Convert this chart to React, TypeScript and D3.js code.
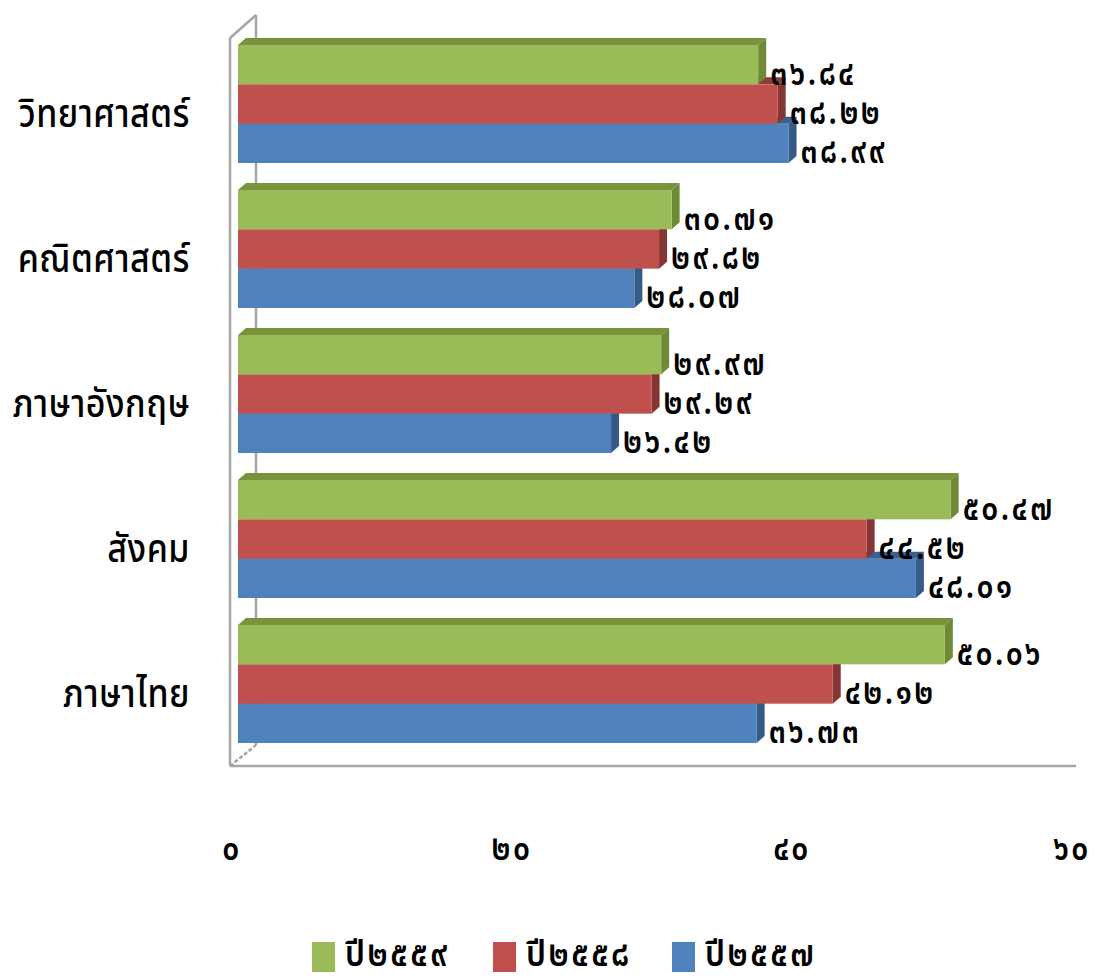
import React from "react";
import * as d3 from "d3";

const categories = ["วิทยาศาสตร์", "คณิตศาสตร์", "ภาษาอังกฤษ", "สังคม", "ภาษาไทย"];
const seriesNames = ["ปี๒๕๕๙", "ปี๒๕๕๘", "ปี๒๕๕๗"];
const v2559 = [36.84, 30.71, 29.97, 50.47, 50.06];
const v2558 = [38.22, 29.82, 29.29, 44.52, 42.12];
const v2557 = [38.99, 28.07, 26.42, 48.01, 36.73];
const tickValues = [0, 20, 40, 60];

const seriesValues = [v2559, v2558, v2557];
const frontColors = ["#9BBB59", "#C0504D", "#4F81BD"];
const topColors = ["#77933C", "#8E3B39", "#3A6091"];
const sideColors = ["#6E8A37", "#843634", "#365A87"];

const thaiDigits = "๐๑๒๓๔๕๖๗๘๙";
const toThai = (s: string) => s.replace(/[0-9]/g, (d) => thaiDigits[+d]);

const FONT = "Tahoma, 'Noto Sans Thai', 'Noto Sans', sans-serif";

export default function App() {
  const W = 1098, H = 980;
  const xAxis = d3.scaleLinear().domain([0, 60]).range([232, 1072]);
  const xBar = d3.scaleLinear().domain([0, 60]).range([238, 238 + 60 * 14.12]);
  const yGroup = d3.scaleBand().domain(categories).range([31.5, 756.5]).paddingInner(27 / 145).paddingOuter(13.5 / 145);
  const ySeries = d3.scaleBand().domain(seriesNames).range([0, yGroup.bandwidth()]);
  const dx = 8, dy = -7;

  const bars: JSX.Element[] = [];
  const labels: JSX.Element[] = [];
  categories.forEach((cat, ci) => {
    for (let si = seriesNames.length - 1; si >= 0; si--) {
      const v = seriesValues[si][ci];
      const y0 = (yGroup(cat) as number) + (ySeries(seriesNames[si]) as number);
      const h = ySeries.bandwidth();
      const x0 = xBar(0), x1 = xBar(v);
      bars.push(
        <g key={cat + si}>
          <path d={`M${x0},${y0} L${x0 + dx},${y0 + dy} L${x1 + dx},${y0 + dy} L${x1},${y0} Z`} fill={topColors[si]} />
          <path d={`M${x1},${y0} L${x1 + dx},${y0 + dy} L${x1 + dx},${y0 + h + dy} L${x1},${y0 + h} Z`} fill={sideColors[si]} />
          <rect x={x0} y={y0} width={x1 - x0} height={h} fill={frontColors[si]} />
        </g>
      );
      labels.push(
        <text key={"l" + cat + si} transform={`translate(${x1 + dx + 4},${y0 + h / 2 + 10}) scale(1,1.2)`}
          fontFamily={FONT} fontSize={30} fontWeight={600} letterSpacing={2.5} fill="#000" dominantBaseline="middle">
          {toThai(v.toFixed(2))}
        </text>
      );
    }
  });

  return (
    <svg width={W} height={H} style={{ display: "block", margin: -8, background: "#fff" }}>
      <g stroke="#a6a6a6" strokeWidth={2.5} fill="none">
        <line x1={256} y1={15} x2={256} y2={745} />
        <line x1={230} y1={38} x2={256} y2={15} />
        <line x1={230} y1={766} x2={256} y2={745} strokeDasharray="4,2" />
        <line x1={230} y1={38} x2={230} y2={766} />
        <line x1={230} y1={766} x2={1076} y2={766} />
      </g>
      {bars}
      {labels}
      {categories.map((cat) => (
        <text key={cat} transform={`translate(190,${(yGroup(cat) as number) + yGroup.bandwidth() / 2 + 12}) scale(1,1.15)`}
          textAnchor="end" dominantBaseline="middle" fontFamily={FONT} fontSize={34} fontWeight={500} letterSpacing={0.5} fill="#000">
          {cat}
        </text>
      ))}
      {tickValues.map((t) => (
        <text key={t} transform={`translate(${xAxis(t)},${850}) scale(1,1.2)`} textAnchor="middle"
          dominantBaseline="middle" fontFamily={FONT} fontSize={30} fontWeight={600} letterSpacing={2.5} fill="#000">
          {toThai(String(t))}
        </text>
      ))}
      {seriesNames.map((s, i) => {
        const lx = [312, 493, 672][i];
        return (
          <g key={s}>
            <rect x={lx} y={942} width={23} height={33} fill={frontColors[i]} />
            <text transform={`translate(${lx + 33},${956}) scale(1,1.1)`} dominantBaseline="middle"
              fontFamily={FONT} fontSize={32} fontWeight={600} letterSpacing={2.5} fill="#000">{s}</text>
          </g>
        );
      })}
    </svg>
  );
}
